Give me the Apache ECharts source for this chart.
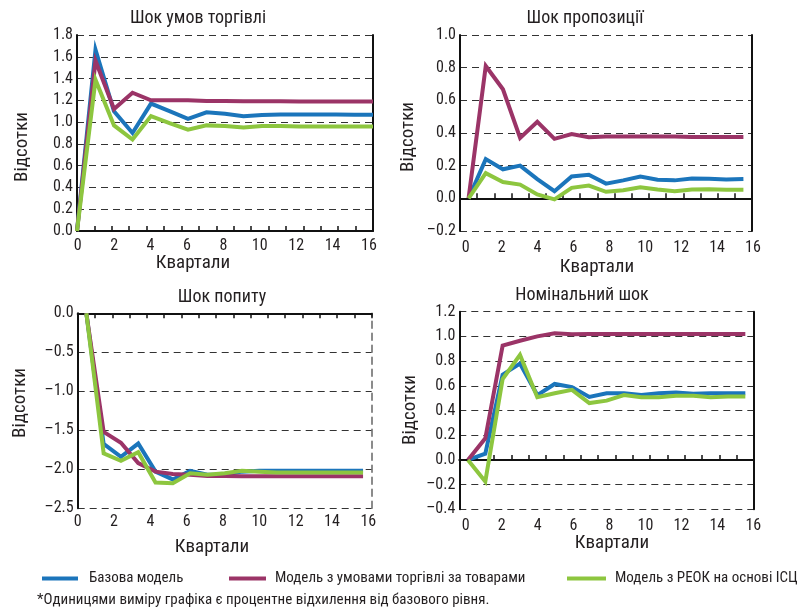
<!DOCTYPE html>
<html>
<head>
<meta charset="utf-8">
<script src="https://cdn.jsdelivr.net/npm/echarts@6/dist/echarts.min.js"></script>
<style>
html,body{margin:0;padding:0;background:#fff;}
#chart{width:805px;height:610px;}
</style>
</head>
<body>
<div id="chart"></div>
<script>
// ---------- data ----------
const quarters = [0,1,2,3,4,5,6,7,8,9,10,11,12,13,14,15,16];
const seriesNames = ['Базова модель', 'Модель з умовами торгівлі за товарами', 'Модель з РЕОК на основі ІСЦ'];
const panelTitles = ['Шок умов торгівлі', 'Шок пропозиції', 'Шок попиту', 'Номінальний шок'];
const xAxisName = 'Квартали';
const yAxisName = 'Відсотки';
const footnote = '*Одиницями виміру графіка є процентне відхилення від базового рівня.';

// Terms-of-trade shock
const totBase = [0, 1.665, 1.10, 0.90, 1.17, 1.10, 1.03, 1.09, 1.077, 1.055, 1.065, 1.07, 1.07, 1.07, 1.07, 1.068, 1.068];
const totTot  = [0, 1.563, 1.12, 1.27, 1.20, 1.20, 1.20, 1.195, 1.195, 1.192, 1.192, 1.192, 1.19, 1.19, 1.19, 1.19, 1.19];
const totCpi  = [0, 1.39, 0.97, 0.84, 1.055, 0.99, 0.93, 0.97, 0.965, 0.95, 0.965, 0.965, 0.96, 0.96, 0.96, 0.96, 0.96];
// Supply shock
const supBase = [0, 0.24, 0.178, 0.20, 0.118, 0.044, 0.134, 0.144, 0.09, 0.11, 0.134, 0.114, 0.11, 0.122, 0.12, 0.116, 0.118];
const supTot  = [0, 0.81, 0.668, 0.37, 0.468, 0.364, 0.394, 0.374, 0.378, 0.378, 0.378, 0.378, 0.378, 0.376, 0.376, 0.376, 0.376];
const supCpi  = [0, 0.154, 0.10, 0.084, 0.024, -0.006, 0.064, 0.078, 0.04, 0.05, 0.068, 0.054, 0.044, 0.054, 0.056, 0.052, 0.052];
// Demand shock
const demBase = [0, -1.675, -1.84, -1.67, -2.03, -2.13, -2.02, -2.07, -2.07, -2.03, -2.02, -2.02, -2.02, -2.02, -2.02, -2.02, -2.02];
const demTot  = [0, -1.52, -1.66, -1.92, -2.03, -2.06, -2.07, -2.085, -2.085, -2.09, -2.09, -2.09, -2.09, -2.09, -2.09, -2.09, -2.09];
const demCpi  = [0, -1.795, -1.89, -1.78, -2.17, -2.18, -2.05, -2.07, -2.05, -2.02, -2.03, -2.04, -2.04, -2.04, -2.04, -2.04, -2.04];
// Nominal shock
const nomBase = [0, 0.05, 0.69, 0.78, 0.525, 0.615, 0.59, 0.51, 0.54, 0.54, 0.525, 0.54, 0.545, 0.535, 0.54, 0.54, 0.54];
const nomTot  = [0, 0.175, 0.925, 0.965, 1.0, 1.025, 1.017, 1.02, 1.02, 1.02, 1.02, 1.02, 1.02, 1.02, 1.02, 1.02, 1.02];
const nomCpi  = [0, -0.175, 0.655, 0.85, 0.507, 0.54, 0.567, 0.46, 0.48, 0.525, 0.507, 0.507, 0.52, 0.52, 0.507, 0.513, 0.513];

const xTickLabels = [0, 16, 2]; // min, max, step of the quarter labels

// ---------- styling ----------
const FONT = '"Liberation Sans Narrow", "Arial Narrow", "Roboto Condensed", "DejaVu Sans Condensed", "Liberation Sans", Arial, sans-serif';
const TXT = '#231f20';
const colors = ['#1b75bb', '#9b3467', '#8dc63f'];

const panels = [
  {data:[totBase, totTot, totCpi], L:77, T:35, R:373, B:231, ymin:0, ymax:1.8, yint:0.2,
   lab0:77.7, lab16:369, labMargin:6, title:[198,18], xname:[193,263], yname:[22,147], valueX:true},
  {data:[supBase, supTot, supCpi], L:460, T:35, R:752, B:231, ymin:-0.2, ymax:1.0, yint:0.2,
   lab0:465.7, lab16:753, labMargin:8, title:[585,18], xname:[597,267], yname:[408,137]},
  {data:[demBase, demTot, demCpi], L:77.7, T:313.3, R:371.7, B:508.3, ymin:-2.5, ymax:0, yint:0.5,
   lab0:77.7, lab16:368.3, labMargin:5, title:[222,297], xname:[212,547], yname:[20,403], zeroTop:true, rightDashed:true},
  {data:[nomBase, nomTot, nomCpi], L:459.3, T:311.7, R:754, B:509.3, ymin:-0.4, ymax:1.2, yint:0.2,
   lab0:465.7, lab16:753.3, labMargin:8, title:[582,295], xname:[612,543], yname:[410,410]}
];

function fmtY(v){
  if (Math.abs(v) < 1e-9) v = 0;
  const s = Math.abs(v).toFixed(1);
  return v < 0 ? '\u2013' + s : s;
}

const grid = [], xAxis = [], yAxis = [], series = [], graphic = [];

panels.forEach((p, i) => {
  grid.push({left:p.L, top:p.T, width:p.R - p.L, height:p.B - p.T, containLabel:false});
});
panels.forEach((p, i) => {
  grid.push({left:p.lab0, top:p.B, width:p.lab16 - p.lab0, height:1, containLabel:false});
});

panels.forEach((p, i) => {
  // y axes (left with labels + grid, right border)
  const yLeft = yAxis.length;
  yAxis.push({
    type:'value', gridIndex:i, min:p.ymin, max:p.ymax, interval:p.yint, position:'left',
    axisLine:{show:true, onZero:false, lineStyle:{color:'#111', width:2}},
    axisTick:{show:false},
    axisLabel:{margin:4, fontSize:16, fontFamily:FONT, color:TXT, formatter:fmtY},
    splitLine:{show:true, lineStyle:{type:[7,5], color:'#333', width:1}}
  });
  yAxis.push({
    type:'value', gridIndex:i, min:p.ymin, max:p.ymax, interval:p.yint, position:'right',
    axisLine:{show:true, onZero:false, lineStyle: p.rightDashed ? {color:'#666', width:1.5, type:[7,5]} : {color:'#111', width:2}},
    axisTick:{show:false}, axisLabel:{show:false}, splitLine:{show:false}
  });
  // zero-line axis with tick marks (17 quarter bands)
  const xTick = xAxis.length;
  xAxis.push({
    type:'category', gridIndex:i, data:quarters, boundaryGap:true,
    position: p.zeroTop ? 'top' : 'bottom',
    axisLine:{show:true, onZero:true, onZeroAxisIndex:yLeft, lineStyle:{color:'#111', width:2}},
    axisTick:{show:true, inside:true, length:5, interval:0, lineStyle:{color:'#111', width:1.5}},
    axisLabel:{show:false}, splitLine:{show:false}
  });
  let xData = xTick;
  if (p.valueX) {
    xData = xAxis.length;
    xAxis.push({type:'value', gridIndex:i, min:quarters[0], max:quarters[quarters.length-1], show:false,
      position: 'top', axisLine:{onZero:false}});
  }
  p.data.forEach((arr, k) => {
    series.push({
      name: seriesNames[k], type:'line', xAxisIndex:xData, yAxisIndex:yLeft,
      data: p.valueX ? quarters.map((q, j) => [q, arr[j]]) : arr,
      symbol:'none', smooth:false, z: 3 + k,
      lineStyle:{width:4, color:colors[k], join:'miter'}, itemStyle:{color:colors[k]}
    });
  });
  graphic.push({type:'text', x:p.title[0], y:p.title[1],
    style:{text:panelTitles[i], fontSize:18, fontFamily:FONT, fill:TXT, textAlign:'center', textVerticalAlign:'middle'}});
  graphic.push({type:'text', x:p.xname[0], y:p.xname[1],
    style:{text:xAxisName, fontSize:19, fontFamily:FONT, fill:TXT, textAlign:'center', textVerticalAlign:'middle'}});
  graphic.push({type:'text', x:p.yname[0], y:p.yname[1], rotation:Math.PI/2,
    style:{text:yAxisName, fontSize:19, fontFamily:FONT, fill:TXT, textAlign:'center', textVerticalAlign:'middle'}});
});

// label axes (quarter numbers along the bottom)
panels.forEach((p, i) => {
  xAxis.push({
    type:'value', gridIndex:4 + i, min:xTickLabels[0], max:xTickLabels[1], interval:xTickLabels[2], position:'bottom',
    axisLine:{show:false, onZero:false}, axisTick:{show:false}, splitLine:{show:false},
    axisLabel:{margin:p.labMargin, fontSize:16, fontFamily:FONT, color:TXT}
  });
  yAxis.push({type:'value', gridIndex:4 + i, show:false, min:0, max:1});
});

graphic.push({type:'text', x:37, y:600,
  style:{text:footnote, fontSize:15, fontFamily:FONT, fill:TXT, textAlign:'left', textVerticalAlign:'middle'}});

const legendBase = {orient:'horizontal', top:566, itemWidth:36, itemHeight:4, icon:'rect', selectedMode:false,
  textStyle:{fontSize:15, fontFamily:FONT, color:TXT}};
const legend = [
  Object.assign({}, legendBase, {left:37, data:[seriesNames[0]], textStyle:Object.assign({}, legendBase.textStyle, {padding:[0,0,0,6]})}),
  Object.assign({}, legendBase, {left:224, itemWidth:37, data:[seriesNames[1]], textStyle:Object.assign({}, legendBase.textStyle, {padding:[0,0,0,4]})}),
  Object.assign({}, legendBase, {left:562, itemWidth:39, data:[seriesNames[2]], textStyle:Object.assign({}, legendBase.textStyle, {padding:[0,0,0,4]})})
];

const chart = echarts.init(document.getElementById('chart'), null, {renderer:'canvas'});
chart.setOption({
  animation:false,
  backgroundColor:'#fff',
  textStyle:{fontFamily:FONT, color:TXT},
  grid, xAxis, yAxis, series, legend, graphic
});
</script>
</body>
</html>
